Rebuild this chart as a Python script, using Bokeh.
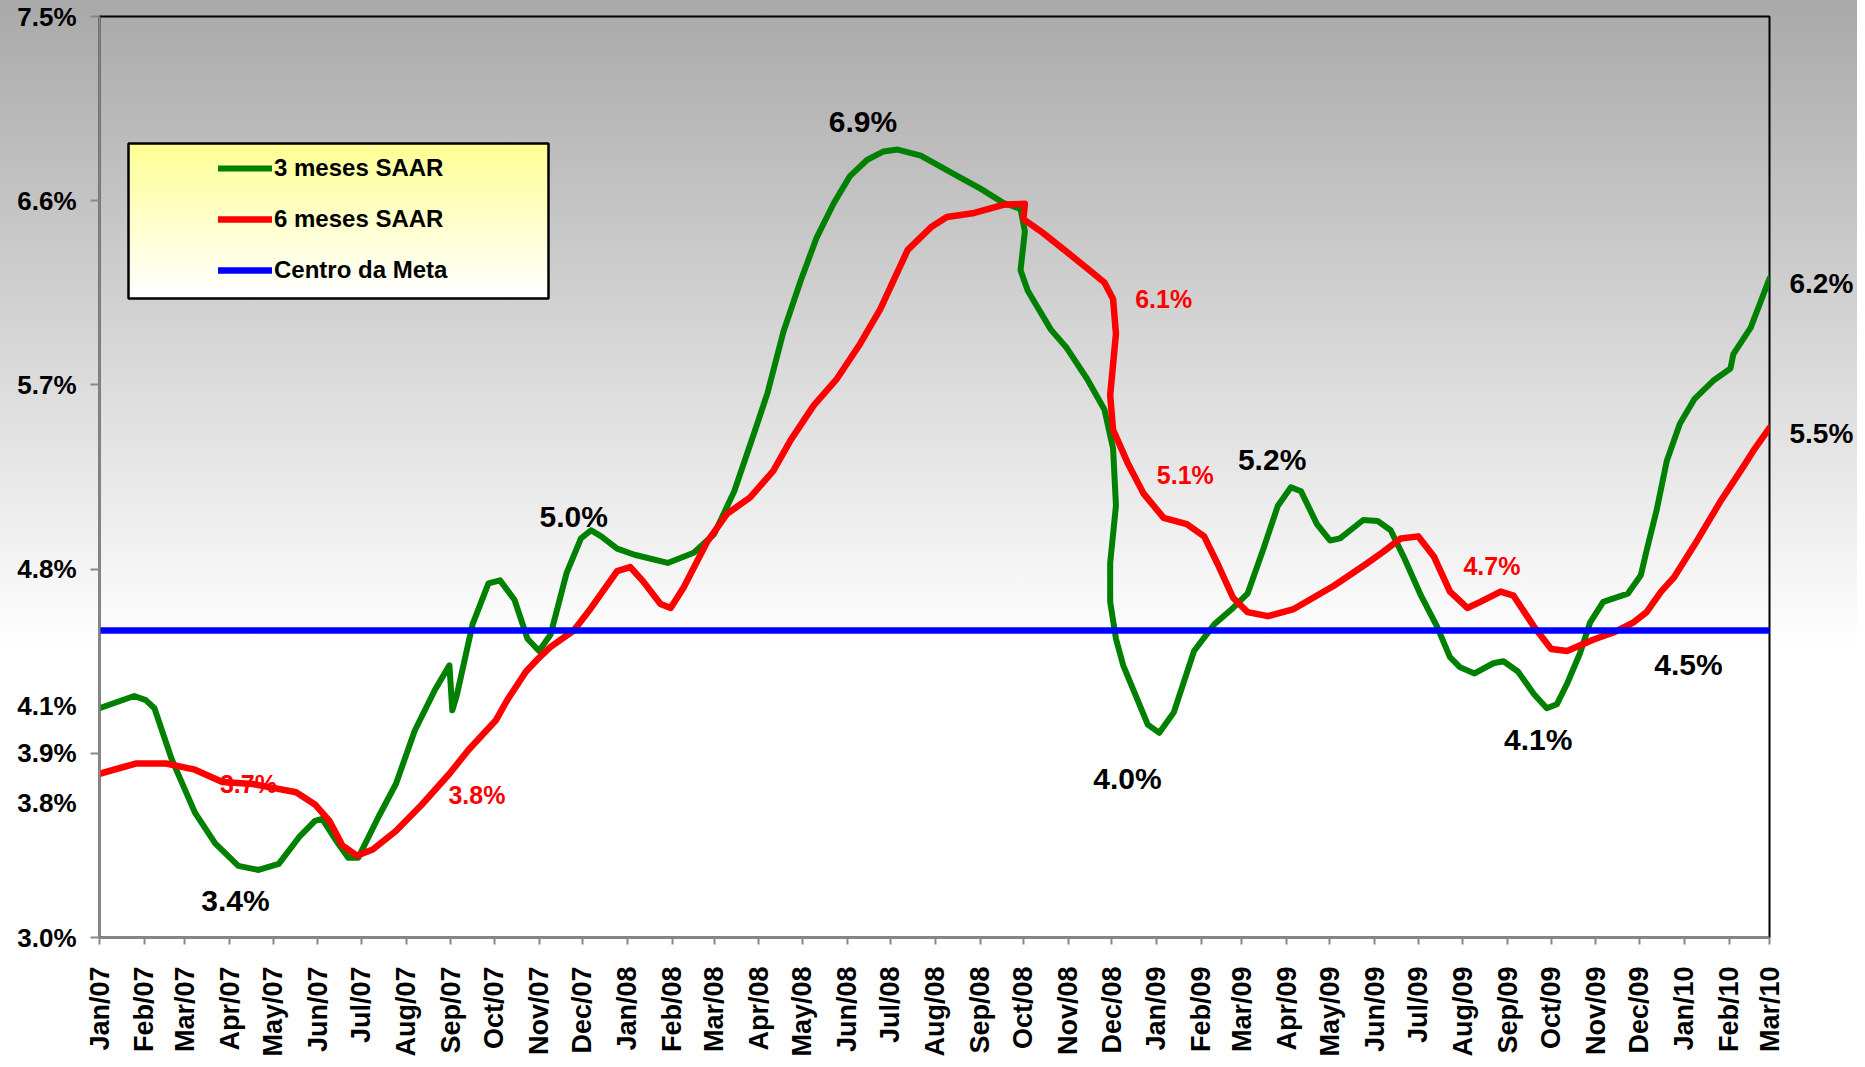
import math
import pandas as pd
from bokeh.plotting import figure
from bokeh.models import (ColumnDataSource, Range1d, FixedTicker, Legend, LegendItem,
                          LabelSet, LinearAxis, BoxAnnotation)
from bokeh.core.properties import field, value
from bokeh.embed import file_html
from bokeh.resources import INLINE

# ---------------- data ----------------
green_dates = [
    "2007-01-01", "2007-01-25", "2007-02-02", "2007-02-08", "2007-02-20", "2007-03-08",
    "2007-03-22", "2007-04-07", "2007-04-21", "2007-05-05", "2007-05-19", "2007-05-30",
    "2007-06-04", "2007-06-13", "2007-06-22", "2007-06-29", "2007-07-13", "2007-07-25",
    "2007-08-07", "2007-08-21", "2007-08-31", "2007-09-02", "2007-09-05", "2007-09-16",
    "2007-09-27", "2007-10-05", "2007-10-15", "2007-10-24", "2007-11-01", "2007-11-09",
    "2007-11-20", "2007-11-30", "2007-12-07", "2007-12-14", "2007-12-25", "2008-01-06",
    "2008-01-29", "2008-02-16", "2008-03-01", "2008-03-15", "2008-03-29", "2008-04-07",
    "2008-04-18", "2008-04-30", "2008-05-11", "2008-05-23", "2008-06-03", "2008-06-15",
    "2008-06-26", "2008-07-06", "2008-07-22", "2008-08-14", "2008-09-01", "2008-09-17",
    "2008-09-29", "2008-10-02", "2008-09-29", "2008-10-04", "2008-10-20", "2008-10-31",
    "2008-11-14", "2008-11-26", "2008-12-02", "2008-12-04", "2008-11-30", "2008-11-30",
    "2008-12-04", "2008-12-09", "2008-12-19", "2008-12-26", "2009-01-03", "2009-01-13",
    "2009-01-27", "2009-02-10", "2009-02-23", "2009-03-05", "2009-03-16", "2009-03-26",
    "2009-04-04", "2009-04-11", "2009-04-22", "2009-05-01", "2009-05-08", "2009-05-24",
    "2009-06-03", "2009-06-12", "2009-06-21", "2009-07-03", "2009-07-14", "2009-07-23",
    "2009-07-30", "2009-08-09", "2009-08-22", "2009-08-29", "2009-09-08", "2009-09-19",
    "2009-09-28", "2009-10-05", "2009-10-12", "2009-10-21", "2009-10-28", "2009-11-06",
    "2009-11-23", "2009-12-02", "2009-12-06", "2009-12-13", "2009-12-20", "2009-12-29",
    "2010-01-08", "2010-01-21", "2010-02-02", "2010-02-04", "2010-02-16", "2010-03-01",
]
green_values = [
    4.12, 4.18, 4.16, 4.12, 3.87, 3.61,
    3.46, 3.35, 3.33, 3.36, 3.49, 3.57,
    3.58, 3.48, 3.39, 3.39, 3.59, 3.75,
    4.01, 4.21, 4.33, 4.11, 4.18, 4.53,
    4.73, 4.745, 4.65, 4.46, 4.40, 4.48,
    4.78, 4.95, 4.99, 4.96, 4.90, 4.87,
    4.83, 4.88, 4.97, 5.18, 5.47, 5.66,
    5.96, 6.21, 6.42, 6.59, 6.72, 6.80,
    6.84, 6.85, 6.82, 6.73, 6.66, 6.59,
    6.56, 6.45, 6.26, 6.16, 5.97, 5.88,
    5.73, 5.58, 5.39, 5.11, 4.83, 4.64,
    4.46, 4.33, 4.16, 4.04, 4.00, 4.10,
    4.40, 4.53, 4.61, 4.68, 4.90, 5.11,
    5.20, 5.18, 5.02, 4.94, 4.95, 5.04,
    5.035, 4.99, 4.86, 4.67, 4.52, 4.37,
    4.32, 4.29, 4.34, 4.35, 4.30, 4.19,
    4.12, 4.14, 4.24, 4.39, 4.54, 4.64,
    4.68, 4.77, 4.89, 5.09, 5.33, 5.51,
    5.63, 5.72, 5.78, 5.85, 5.98, 6.22,
]

red_dates = [
    "2007-01-01", "2007-01-26", "2007-02-16", "2007-03-08", "2007-03-27", "2007-04-17",
    "2007-05-17", "2007-05-30", "2007-06-09", "2007-06-18", "2007-06-28", "2007-07-09",
    "2007-07-25", "2007-08-12", "2007-08-31", "2007-09-13", "2007-10-02", "2007-10-10",
    "2007-10-23", "2007-10-31", "2007-11-09", "2007-11-25", "2007-12-07", "2007-12-25",
    "2008-01-03", "2008-01-12", "2008-01-24", "2008-01-31", "2008-02-09", "2008-02-25",
    "2008-03-10", "2008-03-26", "2008-04-11", "2008-04-23", "2008-05-09", "2008-05-25",
    "2008-06-10", "2008-06-24", "2008-07-13", "2008-07-29", "2008-08-09", "2008-08-28",
    "2008-09-17", "2008-10-02", "2008-10-01", "2008-10-14", "2008-10-31", "2008-11-14",
    "2008-11-26", "2008-12-02", "2008-12-04", "2008-11-30", "2008-12-02", "2008-12-12",
    "2008-12-23", "2009-01-06", "2009-01-22", "2009-02-03", "2009-02-12", "2009-02-23",
    "2009-03-05", "2009-03-19", "2009-04-06", "2009-05-04", "2009-05-27", "2009-06-07",
    "2009-06-19", "2009-07-01", "2009-07-12", "2009-07-23", "2009-08-04", "2009-08-13",
    "2009-08-27", "2009-09-05", "2009-09-19", "2009-10-01", "2009-10-12", "2009-10-30",
    "2009-11-13", "2009-11-27", "2009-12-06", "2009-12-16", "2009-12-25", "2010-01-10",
    "2010-01-26", "2010-02-09", "2010-02-18", "2010-03-01",
]
red_values = [
    3.80, 3.85, 3.85, 3.82, 3.76, 3.75,
    3.71, 3.65, 3.57, 3.45, 3.40, 3.43,
    3.52, 3.65, 3.80, 3.915, 4.06, 4.16,
    4.30, 4.36, 4.42, 4.50, 4.61, 4.79,
    4.81, 4.74, 4.63, 4.61, 4.71, 4.93,
    5.07, 5.15, 5.28, 5.43, 5.60, 5.73,
    5.90, 6.07, 6.36, 6.47, 6.52, 6.54,
    6.58, 6.585, 6.51, 6.445, 6.35, 6.27,
    6.20, 6.12, 5.95, 5.65, 5.48, 5.32,
    5.17, 5.05, 5.02, 4.96, 4.83, 4.66,
    4.59, 4.57, 4.605, 4.72, 4.83, 4.885,
    4.95, 4.96, 4.86, 4.69, 4.61, 4.64,
    4.69, 4.67, 4.52, 4.41, 4.40, 4.455,
    4.49, 4.54, 4.59, 4.69, 4.76, 4.94,
    5.13, 5.28, 5.38, 5.49,
]

meta_dates = ["2007-01-01", "2010-03-01"]
meta_values = [4.5, 4.5]

series_names = ["3 meses SAAR", "6 meses SAAR", "Centro da Meta"]

y_ticks = [3.0, 3.9, 4.8, 5.7, 6.6, 7.5]
y_tick_labels = ["3.0%", "3.9%", "4.8%", "5.7%", "6.6%", "7.5%"]

x_tick_dates = [
    "2007-01-01", "2007-02-01", "2007-03-01", "2007-04-01", "2007-05-01", "2007-06-01",
    "2007-07-01", "2007-08-01", "2007-09-01", "2007-10-01", "2007-11-01", "2007-12-01",
    "2008-01-01", "2008-02-01", "2008-03-01", "2008-04-01", "2008-05-01", "2008-06-01",
    "2008-07-01", "2008-08-01", "2008-09-01", "2008-10-01", "2008-11-01", "2008-12-01",
    "2009-01-01", "2009-02-01", "2009-03-01", "2009-04-01", "2009-05-01", "2009-06-01",
    "2009-07-01", "2009-08-01", "2009-09-01", "2009-10-01", "2009-11-01", "2009-12-01",
    "2010-01-01", "2010-02-01", "2010-03-01",
]
x_tick_labels = [
    "Jan/07", "Feb/07", "Mar/07", "Apr/07", "May/07", "Jun/07",
    "Jul/07", "Aug/07", "Sep/07", "Oct/07", "Nov/07", "Dec/07",
    "Jan/08", "Feb/08", "Mar/08", "Apr/08", "May/08", "Jun/08",
    "Jul/08", "Aug/08", "Sep/08", "Oct/08", "Nov/08", "Dec/08",
    "Jan/09", "Feb/09", "Mar/09", "Apr/09", "May/09", "Jun/09",
    "Jul/09", "Aug/09", "Sep/09", "Oct/09", "Nov/09", "Dec/09",
    "Jan/10", "Feb/10", "Mar/10",
]

# value labels inside the plot
ann_text = ["3.7%", "3.4%", "3.8%", "5.0%", "6.9%", "6.1%",
            "5.1%", "5.2%", "4.0%", "4.7%", "4.1%", "4.5%"]
ann_dates = ["2007-04-14", "2007-04-05", "2007-09-19",
             "2007-11-25", "2008-06-12", "2009-01-06", "2009-01-21", "2009-03-22",
             "2008-12-12", "2009-08-21", "2009-09-22", "2010-01-04"]
ann_values = [3.752, 3.182, 3.695, 5.057, 6.986, 6.119,
              5.259, 5.334, 3.778, 4.816, 3.967, 4.336]
ann_series = ["6m", "3m", "6m", "3m", "3m", "6m",
              "6m", "3m", "3m", "6m", "3m", "3m"]

# first / last value labels in the margins
edge_text = ["4.1%", "3.8%", "6.2%", "5.5%"]
edge_values = [4.13, 3.656, 6.193, 5.461]
edge_side = ["left", "left", "right", "right"]

# ---------------- styles / layout ----------------
GREEN, RED, BLUE = "#008000", "#ff0000", "#0000ff"
FONT = "Liberation Sans"
AXIS_GRAY = "#888888"
X_START, X_END = pd.Timestamp("2007-01-01"), pd.Timestamp("2010-03-01")
Y_MIN, Y_MAX = 3.0, 7.5
W, H = 1857, 1059
B_LEFT, B_RIGHT, B_TOP, B_BOTTOM = 99, 88, 16, 122


def to_dt(lst):
    return pd.to_datetime(lst)


def ms(ts):
    return float(pd.Timestamp(ts).value // 10**6)


p = figure(width=W, height=H, x_axis_type="datetime",
           x_range=Range1d(X_START, X_END), y_range=Range1d(Y_MIN, Y_MAX),
           output_backend="svg", toolbar_location=None,
           min_border_left=B_LEFT, min_border_right=B_RIGHT,
           min_border_top=B_TOP, min_border_bottom=B_BOTTOM)

p.styles = {"background": "linear-gradient(to bottom, #a9a9a9 0px, #ffffff 650px, #ffffff 100%)"}
p.background_fill_alpha = 0
p.border_fill_alpha = 0
p.outline_line_color = "black"
p.outline_line_width = 2
p.xgrid.visible = False
p.ygrid.visible = False

# legend box (gradient bands, frame-relative screen px)
box_left, box_right, box_top, box_bottom = 29, 449, 794, 639
n_bands = 26
h = (box_top - box_bottom) / n_bands
for i in range(n_bands):
    t = i / (n_bands - 1)
    b = int(round(150 + (255 - 150) * t))
    col = "#ffff%02x" % b
    p.add_layout(BoxAnnotation(left=box_left, right=box_right,
                               top=box_top - i * h, bottom=box_top - (i + 1) * h - 0.6,
                               left_units="screen", right_units="screen",
                               top_units="screen", bottom_units="screen",
                               fill_color=col, fill_alpha=1.0, line_alpha=0,
                               level="annotation", editable=False))
p.add_layout(BoxAnnotation(left=box_left, right=box_right, top=box_top, bottom=box_bottom,
                           left_units="screen", right_units="screen",
                           top_units="screen", bottom_units="screen",
                           fill_alpha=0, line_color="black", line_alpha=1.0, line_width=2.5,
                           level="annotation"))

# value labels inside the frame (drawn under the lines)
ann_colors = ["black" if s == "3m" else RED for s in ann_series]
ann_sizes = ["30px" if s == "3m" else "25px" for s in ann_series]
src_in = ColumnDataSource(dict(x=to_dt(ann_dates), y=ann_values, text=ann_text,
                               color=ann_colors, size=ann_sizes))
p.add_layout(LabelSet(x="x", y="y", text="text", source=src_in,
                      text_color=field("color"), text_font_size=field("size"),
                      text_font=value(FONT), text_font_style="bold",
                      text_align="center", text_baseline="middle", level="underlay"))

# lines
src_g = ColumnDataSource(dict(x=to_dt(green_dates), y=green_values))
src_r = ColumnDataSource(dict(x=to_dt(red_dates), y=red_values))
src_b = ColumnDataSource(dict(x=to_dt(meta_dates), y=meta_values))
r_g = p.line("x", "y", source=src_g, line_color=GREEN, line_width=6,
             line_join="round", line_cap="round")
r_r = p.line("x", "y", source=src_r, line_color=RED, line_width=6.5,
             line_join="round", line_cap="round")
r_b = p.line("x", "y", source=src_b, line_color=BLUE, line_width=6.5, line_cap="round")

legend = Legend(items=[LegendItem(label=series_names[0], renderers=[r_g]),
                       LegendItem(label=series_names[1], renderers=[r_r]),
                       LegendItem(label=series_names[2], renderers=[r_b])],
                location=(119, 652), orientation="vertical",
                background_fill_alpha=0, border_line_alpha=0,
                padding=0, margin=0, spacing=21,
                glyph_width=54, glyph_height=30, label_height=30, label_standoff=2,
                label_text_font=FONT, label_text_font_style="bold",
                label_text_font_size="24px", label_text_color="black")
p.add_layout(legend)

# x axis
x_tick_ms = [ms(d) for d in x_tick_dates]
xa = p.xaxis[0]
xa.ticker = FixedTicker(ticks=x_tick_ms)
xa.major_label_overrides = dict(zip(x_tick_ms, x_tick_labels))
xa.major_label_orientation = math.pi / 2
xa.major_label_text_font = FONT
xa.major_label_text_font_style = "bold"
xa.major_label_text_font_size = "27px"
xa.major_label_text_color = "black"
xa.major_label_standoff = 22
xa.axis_line_color = AXIS_GRAY
xa.axis_line_width = 2
xa.major_tick_line_color = AXIS_GRAY
xa.major_tick_line_width = 2
xa.major_tick_out = 7
xa.major_tick_in = 0
xa.minor_tick_line_color = None

# left y axis: tick marks only at the grid values (minor ticks), labels also for the
# first values of the series
left_vals = [v for v, s in zip(edge_values, edge_side) if s == "left"]
left_text = [t for t, s in zip(edge_text, edge_side) if s == "left"]
ya = p.yaxis[0]
ya.ticker = FixedTicker(ticks=y_ticks + left_vals, minor_ticks=y_ticks)
ya.major_label_overrides = dict(zip(y_ticks + left_vals, y_tick_labels + left_text))
ya.major_label_text_font = FONT
ya.major_label_text_font_style = "bold"
ya.major_label_text_font_size = "26px"
ya.major_label_text_color = "black"
ya.major_label_standoff = 14
ya.axis_line_color = AXIS_GRAY
ya.axis_line_width = 2
ya.major_tick_line_color = None
ya.major_tick_out = 9
ya.major_tick_in = 0
ya.minor_tick_line_color = AXIS_GRAY
ya.minor_tick_line_width = 2
ya.minor_tick_out = 9
ya.minor_tick_in = 0

# right side: last values of the series
right_vals = [v for v, s in zip(edge_values, edge_side) if s == "right"]
right_text = [t for t, s in zip(edge_text, edge_side) if s == "right"]
ra = LinearAxis(ticker=FixedTicker(ticks=right_vals),
                major_label_overrides=dict(zip(right_vals, right_text)),
                axis_line_color=None, major_tick_line_color=None,
                minor_tick_line_color=None, major_tick_in=0, major_tick_out=0,
                major_label_standoff=20, major_label_text_color="black",
                major_label_text_font=FONT, major_label_text_font_style="bold",
                major_label_text_font_size="28px")
p.add_layout(ra, "right")

open("out.html", "w").write(file_html(p, INLINE))
